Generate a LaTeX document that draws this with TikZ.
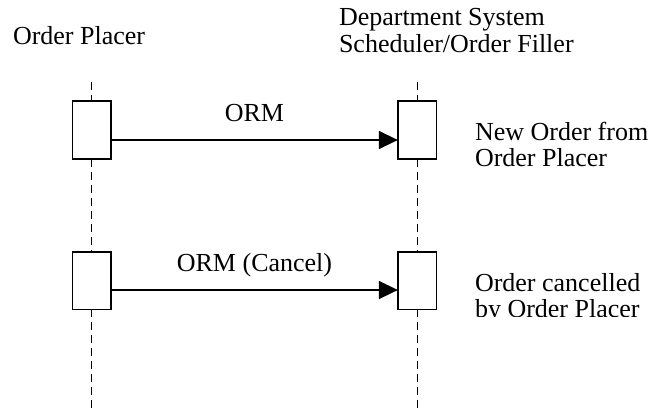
\documentclass[tikz,border=0pt]{standalone}
\usepackage{fontspec}
\setmainfont{Liberation Serif}
\usetikzlibrary{arrows.meta}
\tikzset{
  lbl/.style={inner sep=0pt, outer sep=0pt, align=left, font=\fontsize{26}{25.5}\selectfont},
  act/.style={draw, line width=1.4pt, fill=white, minimum width=38.7pt, minimum height=58pt, inner sep=0pt, outer sep=0pt},
  life/.style={dash pattern=on 8pt off 5pt, line width=1.1pt},
  msg/.style={line width=1.6pt, -{Triangle[length=19pt,width=18pt]}, shorten >=0pt},
}
\begin{document}
\begin{tikzpicture}[x=1pt,y=-1pt]
\useasboundingbox (0,0) rectangle (654,408);
% headers
\node[lbl, anchor=base west] (hA) at (13,44) {Order Placer};
\node[lbl, anchor=base west] (hB) at (339,52) {Department System\\[1.5pt]Scheduler/Order Filler};
% lifeline ends
\coordinate (tA) at (91.7,82);
\coordinate (tB) at (417.2,82);
\coordinate (bA) at (91.7,408);
\coordinate (bB) at (417.2,408);
% activation boxes
\node[act] (A1) at (91.7,130) {};
\node[act] (B1) at (417.2,130) {};
\node[act, minimum height=57.5pt] (A2) at (91.7,280.7) {};
\node[act, minimum height=57.5pt] (B2) at (417.2,280.7) {};
% lifelines
\draw[life] (tA) -- (A1.north);
\draw[life] (A1.south) -- (A2.north);
\draw[life] (A2.south) -- (bA);
\draw[life] (tB) -- (B1.north);
\draw[life] (B1.south) -- (B2.north);
\draw[life] (B2.south) -- (bB);
% messages
\draw[msg] ([yshift=-10pt]A1.east) -- ([yshift=-10pt]B1.west);
\draw[msg] ([yshift=-9.3pt]A2.east) -- ([yshift=-9.3pt]B2.west);
\node[lbl, anchor=base] (m1) at (254.5,121) {ORM};
\node[lbl, anchor=base] (m2) at (254.5,271) {ORM (Cancel)};
% notes
\node[lbl, anchor=base west] (n1) at (475,166.2) {New Order from\\Order Placer};
\begin{scope}
\clip (0,0) rectangle (654,316.6);
\node[lbl, anchor=base west] (n2) at (475,317.2) {Order cancelled\\by Order Placer};
\end{scope}
\end{tikzpicture}
\end{document}
